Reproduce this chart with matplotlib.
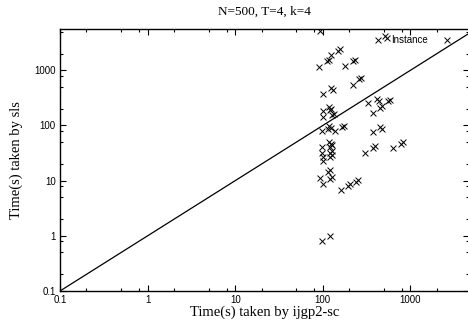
import numpy as np
import matplotlib
matplotlib.use("Agg")
import matplotlib.pyplot as plt
from matplotlib.ticker import FixedLocator, NullFormatter

# run times (s) of ijgp2-sc (x) and sls (y), one pair per instance
t_ijgp = [93.6, 91.2, 112, 117, 125, 148, 155, 181, 223, 233, 223, 261, 272,
          101, 125, 131, 431, 518, 540,
          101, 119, 125, 122, 101, 128, 134,
          98.6, 119, 124, 116, 139, 167, 174,
          98.6, 119, 124, 122, 127, 98.6, 122, 128, 101, 122, 127, 101,
          93.6, 116, 121, 101, 122, 127,
          163, 196, 205, 242, 252,
          331, 420, 438, 561, 585, 378, 454, 470,
          378, 454, 472, 306, 378, 392, 640, 789, 820,
          98.6, 122]
t_sls = [5200, 1130, 1460, 1560, 1870, 2280, 2430, 1180, 1460, 1560, 534, 686, 730,
         366, 471, 440, 3510, 4150, 3900,
         180, 212, 200, 187, 140, 152, 162,
         78, 96, 89, 88, 78, 92, 97,
         41.5, 51, 47, 41.5, 44, 32.3, 32.3, 34.5, 27.3, 27.3, 29, 23.1,
         11.3, 14.6, 15.6, 8.8, 10.9, 11.8,
         6.9, 8.1, 8.7, 9.6, 10.2,
         251, 297, 280, 273, 292, 165, 204, 222,
         75, 92, 87, 32.3, 39.8, 42.5, 39.8, 47, 50,
         0.81, 1.0]

title = "N=500, T=4, k=4"
major = [0.1, 1, 10, 100, 1000]
major_lbl = ["0.1", "1", "10", "100", "1000"]

serif = ["Liberation Serif", "DejaVu Serif"]
sans = ["Liberation Sans", "DejaVu Sans"]

fig = plt.figure(figsize=(4.68, 3.22), dpi=100)
ax = fig.add_axes([60 / 468, 31 / 322, 408.5 / 468, 262 / 322])

ax.set_xscale("log")
ax.set_yscale("log")
ax.set_xlim(0.1, 4600)
ax.set_ylim(0.1, 5600)

# y = x reference line
ref = np.array([0.1, 10000])
ax.plot(ref, ref, color="black", lw=0.9)

ax.scatter(t_ijgp, t_sls, marker="x", s=18, color="black", linewidths=0.7,
           label="Instance")

minor = [m * d for d in major + [10000] for m in (2, 5, 8)]
for axis in (ax.xaxis, ax.yaxis):
    axis.set_major_locator(FixedLocator(major))
    axis.set_minor_locator(FixedLocator(minor))
    axis.set_minor_formatter(NullFormatter())
ax.set_xticklabels(major_lbl, fontfamily=sans, fontsize=7)
ax.set_yticklabels(major_lbl, fontfamily=sans, fontsize=7)
ax.tick_params(which="both", direction="in", top=True, right=True, pad=3,
               width=0.8)
ax.tick_params(which="major", length=4)
ax.tick_params(which="minor", length=2)
for sp in ax.spines.values():
    sp.set_linewidth(1.0)

ax.set_title(title, fontfamily=serif, fontsize=9.5, pad=10)
ax.set_xlabel("Time(s) taken by ijgp2-sc", fontfamily=serif, fontsize=10.5,
              labelpad=0)
ax.set_ylabel("Time(s) taken by sls", fontfamily=serif, fontsize=10.5,
              labelpad=8)

ax.legend(loc="upper right", frameon=False, markerfirst=False,
          prop={"family": sans, "size": 7}, handletextpad=1.3,
          handlelength=1.2, borderaxespad=0.2, bbox_to_anchor=(0.975, 1.0))

fig.savefig("out.png", dpi=100)
